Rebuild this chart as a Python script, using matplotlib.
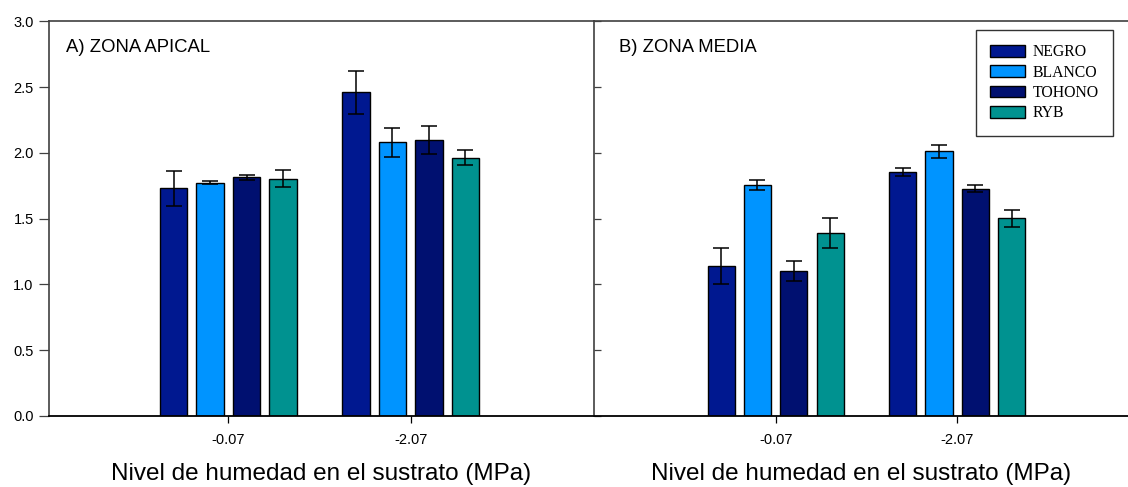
import numpy as np
import matplotlib.pyplot as plt
from matplotlib.patches import Patch

plt.rcParams['font.family'] = ['Liberation Sans', 'DejaVu Sans']

levels = ['-0.07', '-2.07']
series = ['NEGRO', 'BLANCO', 'TOHONO', 'RYB']
colors = ['#001890', '#0094FF', '#001070', '#009290']

# zona apical, per series: value at -0.07, -2.07
apical = {
    'NEGRO': [1.73, 2.46],
    'BLANCO': [1.775, 2.08],
    'TOHONO': [1.815, 2.10],
    'RYB': [1.805, 1.965],
}
apical_err = {
    'NEGRO': [0.13, 0.165],
    'BLANCO': [0.01, 0.11],
    'TOHONO': [0.02, 0.105],
    'RYB': [0.065, 0.055],
}
# zona media
media = {
    'NEGRO': [1.14, 1.858],
    'BLANCO': [1.757, 2.013],
    'TOHONO': [1.104, 1.729],
    'RYB': [1.394, 1.503],
}
media_err = {
    'NEGRO': [0.14, 0.03],
    'BLANCO': [0.035, 0.05],
    'TOHONO': [0.075, 0.027],
    'RYB': [0.115, 0.063],
}

fig = plt.figure(figsize=(11.28, 4.87), dpi=100)
ax1 = fig.add_axes([0.0434, 0.1458, 0.4832, 0.8101])
ax2 = fig.add_axes([0.5266, 0.1458, 0.4734, 0.8101])

x = np.array([1, 2])
offsets = [-0.3, -0.1, 0.1, 0.3]
width = 0.15
spine_col = '#404040'


def draw(ax, vals, errs, title, xlim):
    for s, off, c in zip(series, offsets, colors):
        ax.bar(x + off, vals[s], width, color=c, edgecolor='black',
               linewidth=1.0, zorder=2)
        ax.errorbar(x + off, vals[s], yerr=errs[s], fmt='none',
                    ecolor='black', elinewidth=1.1, capsize=5.5,
                    capthick=1.1, zorder=3)
    ax.set_xlim(*xlim)
    ax.set_ylim(0, 3.0)
    ax.set_xticks(x)
    ax.set_xticklabels(levels, fontsize=10.5)
    ax.set_yticks(np.arange(0, 3.01, 0.5))
    ax.set_xlabel('Nivel de humedad en el sustrato (MPa)', fontsize=17.5,
                  labelpad=12)
    ax.text(0.031 if title.startswith('A') else 0.046, 0.935, title,
            transform=ax.transAxes, fontsize=13.3, va='center', ha='left')
    ax.spines['right'].set_visible(False)
    for sp in ['top', 'left']:
        ax.spines[sp].set_color(spine_col)
        ax.spines[sp].set_linewidth(1.2)
    ax.spines['bottom'].set_color('black')
    ax.spines['bottom'].set_linewidth(1.3)
    ax.tick_params(axis='x', length=5, width=0.9, pad=7)


draw(ax1, apical, apical_err, 'A) ZONA APICAL', (0.017, 3.005))
ax1.tick_params(axis='y', direction='out', length=7, width=0.9, pad=4,
                labelsize=10.5, colors=spine_col, labelcolor='black')
ax1.set_yticklabels([f'{v:.1f}' for v in np.arange(0, 3.01, 0.5)])

draw(ax2, media, media_err, 'B) ZONA MEDIA', (0.0, 2.94))
ax2.tick_params(axis='y', direction='in', length=5, width=0.9,
                labelleft=False, colors=spine_col)

handles = [Patch(facecolor=c, edgecolor='black', linewidth=1.0, label=s)
           for s, c in zip(series, colors)]
leg = ax2.legend(handles=handles, loc='upper right',
                 bbox_to_anchor=(0.972, 0.978), frameon=True, fancybox=False,
                 edgecolor='black', handlelength=2.2, handleheight=0.75,
                 labelspacing=0.28, borderpad=0.9, handletextpad=0.5,
                 borderaxespad=0.0,
                 prop={'family': 'Liberation Serif', 'size': 11.3})
leg.get_frame().set_linewidth(1.0)

fig.savefig('out.png', dpi=100)
